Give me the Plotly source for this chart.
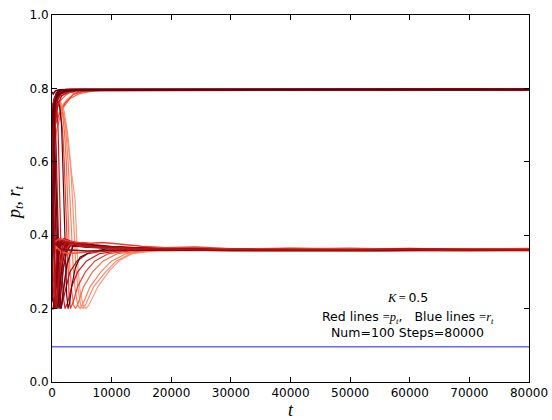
import plotly.graph_objects as go

# ---------------- data ----------------
# lines that climb quickly to the upper level (~0.797)
up_fast_t = [
    [0, 100, 300, 600, 1000, 2000, 4000, 20000, 50000, 80000],
    [0, 200, 500, 900, 1600, 3000, 20000, 80000],
    [0, 150, 350, 700, 1200, 2500, 80000],
    [0, 200, 450, 800, 1500, 3000, 80000],
    [0, 150, 400, 900, 2000, 80000],
    [0, 200, 500, 1000, 2000, 4000, 80000],
    [0, 300, 700, 1500, 3000, 80000],
    [0, 200, 600, 1200, 2500, 80000],
    [0, 100, 300, 700, 1300, 2500, 5000, 80000],
    [0, 250, 600, 1000, 1800, 3500, 80000],
    [0, 300, 800, 1500, 3000, 80000],
    [0, 400, 900, 1600, 2800, 5000, 80000],
    [0, 100, 250, 500, 900, 1800, 80000],
    [0, 300, 700, 1200, 2200, 4500, 80000],
]
up_fast_p = [
    [0.22, 0.45, 0.70, 0.78, 0.792, 0.796, 0.797, 0.797, 0.798, 0.797],
    [0.30, 0.52, 0.73, 0.783, 0.793, 0.797, 0.797, 0.796],
    [0.40, 0.60, 0.75, 0.787, 0.794, 0.797, 0.798],
    [0.50, 0.66, 0.76, 0.785, 0.793, 0.796, 0.797],
    [0.58, 0.72, 0.77, 0.788, 0.795, 0.797],
    [0.66, 0.74, 0.775, 0.788, 0.793, 0.796, 0.796],
    [0.73, 0.77, 0.785, 0.792, 0.796, 0.797],
    [0.79, 0.785, 0.794, 0.796, 0.797, 0.798],
    [0.35, 0.48, 0.66, 0.77, 0.788, 0.795, 0.797, 0.797],
    [0.45, 0.62, 0.74, 0.778, 0.79, 0.796, 0.797],
    [0.62, 0.70, 0.765, 0.785, 0.794, 0.797],
    [0.55, 0.68, 0.75, 0.78, 0.79, 0.795, 0.797],
    [0.26, 0.40, 0.62, 0.76, 0.788, 0.795, 0.797],
    [0.70, 0.755, 0.775, 0.785, 0.792, 0.796, 0.797],
]
up_fast_colors = ["#67000d", "#7a0510", "#8b0a12", "#99000d", "#a50f15", "#7f0610",
                  "#b11218", "#67000d", "#8b0a12", "#99000d", "#a50f15", "#cb181d",
                  "#7a0510", "#67000d"]

# lines that creep up slowly to the upper level
up_slow_t = [
    [0, 300, 700, 1200, 1800, 2500, 3500, 5000, 7000, 80000],
    [0, 400, 800, 1300, 2000, 3000, 4500, 6500, 9000, 80000],
    [0, 300, 900, 1600, 2400, 3200, 4000, 6000, 80000],
    [0, 500, 1000, 1500, 2200, 3000, 3800, 5000, 8000, 80000],
]
up_slow_p = [
    [0.60, 0.68, 0.71, 0.735, 0.755, 0.77, 0.783, 0.79, 0.795, 0.797],
    [0.55, 0.64, 0.69, 0.72, 0.75, 0.772, 0.785, 0.792, 0.796, 0.797],
    [0.70, 0.73, 0.755, 0.77, 0.783, 0.79, 0.786, 0.795, 0.797],
    [0.66, 0.70, 0.72, 0.74, 0.76, 0.775, 0.787, 0.792, 0.796, 0.797],
]
up_slow_colors = ["#fc9272", "#fb6a4a", "#f4583a", "#ef3b2c"]

# lines that fall from ~0.75, touch 0.2 and recover to ~0.36 (lightest first)
fall_t = [
    [0, 300, 800, 1300, 1700, 2350, 3020, 3440, 3860, 4110, 4360, 4700, 5200, 5700, 6200, 7700, 9700, 11400, 13600, 17000, 24000, 30000, 40000, 50000, 60000, 70000, 80000],
    [0, 300, 800, 1400, 2000, 2600, 3100, 3470, 3750, 4000, 4400, 4800, 5200, 5600, 7000, 9000, 10800, 13200, 17000, 23000, 30000, 40000, 50000, 60000, 70000, 80000],
    [0, 300, 800, 1300, 1800, 2300, 2700, 3050, 3300, 3550, 3900, 4300, 4700, 5100, 6400, 8200, 10000, 12500, 16000, 22000, 30000, 40000, 50000, 60000, 70000, 80000],
    [0, 300, 700, 1200, 1700, 2100, 2400, 2600, 2800, 3000, 3300, 3600, 3900, 4300, 5300, 6800, 8600, 11000, 15000, 20000, 30000, 40000, 50000, 60000, 70000, 80000],
    [0, 250, 600, 1000, 1400, 1800, 2050, 2300, 2500, 2650, 2850, 3100, 3500, 4300, 5600, 7200, 9500, 13000, 18000, 25000, 30000, 40000, 50000, 60000, 70000, 80000],
    [0, 200, 500, 800, 1000, 1200, 1300, 1450, 1600, 1800, 2000, 2200, 2600, 3300, 4300, 5800, 8000, 11000, 15000, 20000, 30000, 40000, 50000, 60000, 70000, 80000],
    [0, 150, 300, 500, 700, 900, 1050, 1200, 1350, 1500, 1800, 2300, 3000, 4200, 6000, 9000, 13000, 20000, 30000, 40000, 50000, 60000, 70000, 80000],
    [0, 200, 500, 900, 1300, 1600, 1800, 1960, 2100, 2250, 2450, 2700, 2950, 3300, 3900, 4700, 6500, 9000, 13000, 20000, 30000, 40000, 50000, 60000, 70000, 80000],
]
fall_p = [
    [0.45, 0.70, 0.75, 0.76, 0.74, 0.70, 0.60, 0.55, 0.50, 0.40, 0.31, 0.25, 0.21, 0.20, 0.21, 0.26, 0.305, 0.332, 0.351, 0.357, 0.366, 0.361, 0.364, 0.36, 0.365, 0.36, 0.363],
    [0.64, 0.74, 0.765, 0.765, 0.74, 0.68, 0.60, 0.50, 0.40, 0.31, 0.25, 0.21, 0.20, 0.21, 0.26, 0.30, 0.33, 0.35, 0.357, 0.365, 0.361, 0.366, 0.362, 0.364, 0.361, 0.365],
    [0.70, 0.75, 0.765, 0.76, 0.74, 0.69, 0.60, 0.50, 0.40, 0.31, 0.25, 0.21, 0.20, 0.21, 0.26, 0.30, 0.33, 0.35, 0.357, 0.36, 0.362, 0.361, 0.36, 0.362, 0.36, 0.361],
    [0.58, 0.72, 0.76, 0.765, 0.74, 0.68, 0.60, 0.50, 0.40, 0.31, 0.25, 0.21, 0.20, 0.21, 0.26, 0.30, 0.33, 0.35, 0.357, 0.36, 0.361, 0.362, 0.36, 0.361, 0.36, 0.361],
    [0.66, 0.74, 0.765, 0.76, 0.74, 0.68, 0.60, 0.50, 0.40, 0.31, 0.24, 0.20, 0.215, 0.26, 0.30, 0.33, 0.35, 0.357, 0.36, 0.361, 0.362, 0.36, 0.361, 0.36, 0.362, 0.36],
    [0.60, 0.72, 0.76, 0.75, 0.70, 0.60, 0.50, 0.40, 0.33, 0.26, 0.22, 0.20, 0.215, 0.26, 0.30, 0.33, 0.35, 0.357, 0.36, 0.362, 0.361, 0.36, 0.362, 0.36, 0.361, 0.361],
    [0.52, 0.68, 0.74, 0.72, 0.64, 0.50, 0.38, 0.29, 0.23, 0.20, 0.22, 0.26, 0.30, 0.33, 0.35, 0.358, 0.362, 0.361, 0.36, 0.362, 0.361, 0.359, 0.361, 0.36],
    [0.48, 0.66, 0.75, 0.77, 0.75, 0.70, 0.60, 0.50, 0.40, 0.31, 0.24, 0.20, 0.215, 0.26, 0.31, 0.34, 0.355, 0.362, 0.364, 0.362, 0.361, 0.362, 0.36, 0.361, 0.362, 0.361],
]
fall_colors = ["#fc9a7e", "#fc8d6f", "#fc8161", "#fb6a4a", "#ef3b2c", "#cb181d", "#a50f15", "#67000d"]

# lines that settle quickly into the lower level (~0.36)
band_t = [
    [0, 150, 400, 700, 1000, 1500, 2500, 4000, 6000, 9000, 13000, 18000, 25000, 35000, 45000, 55000, 65000, 75000, 80000],
    [0, 150, 400, 700, 1000, 1500, 2500, 4000, 6000, 9000, 13000, 18000, 25000, 35000, 45000, 55000, 65000, 75000, 80000],
    [0, 200, 450, 700, 1000, 1400, 2000, 3000, 4500, 6500, 9000, 13000, 18000, 25000, 35000, 45000, 55000, 65000, 75000, 80000],
    [0, 200, 450, 700, 1000, 1400, 2000, 3000, 4500, 6500, 9000, 13000, 18000, 25000, 35000, 45000, 55000, 65000, 75000, 80000],
    [0, 150, 350, 550, 750, 1000, 1300, 1700, 2200, 3000, 4500, 6500, 9000, 13000, 18000, 25000, 35000, 45000, 55000, 65000, 75000, 80000],
    [0, 150, 400, 700, 1000, 1500, 2500, 4000, 6000, 9000, 13000, 18000, 25000, 35000, 45000, 55000, 65000, 75000, 80000],
    [0, 150, 400, 700, 1000, 1500, 2500, 4000, 6000, 9000, 13000, 18000, 25000, 35000, 45000, 55000, 65000, 75000, 80000],
    [0, 200, 400, 600, 800, 1000, 1200, 1500, 1900, 2500, 3500, 5000, 7000, 10000, 14000, 19000, 25000, 35000, 45000, 55000, 65000, 75000, 80000],
    [0, 200, 450, 700, 1000, 1400, 2000, 3000, 4500, 6500, 9000, 13000, 18000, 25000, 35000, 45000, 55000, 65000, 75000, 80000],
    [0, 150, 350, 550, 750, 1000, 1300, 1700, 2200, 3000, 4500, 6500, 9000, 13000, 18000, 25000, 35000, 45000, 55000, 65000, 75000, 80000],
    [0, 150, 400, 700, 1000, 1500, 2500, 4000, 6000, 9000, 13000, 18000, 25000, 35000, 45000, 55000, 65000, 75000, 80000],
    [0, 200, 450, 700, 1000, 1400, 2000, 3000, 4500, 6500, 9000, 13000, 18000, 25000, 35000, 45000, 55000, 65000, 75000, 80000],
    [0, 200, 450, 700, 1000, 1400, 2000, 3000, 4500, 6500, 9000, 13000, 18000, 25000, 35000, 45000, 55000, 65000, 75000, 80000],
    [0, 200, 400, 600, 800, 1000, 1200, 1500, 1900, 2500, 3500, 5000, 7000, 10000, 14000, 19000, 25000, 35000, 45000, 55000, 65000, 75000, 80000],
    [0, 300, 700, 1200, 2000, 3000, 4500, 6500, 8500, 10500, 12500, 15000, 19000, 24000, 30000, 40000, 50000, 60000, 70000, 80000],
    [0, 300, 700, 1200, 2000, 3000, 4500, 6500, 8500, 10500, 12500, 15000, 19000, 24000, 30000, 40000, 50000, 60000, 70000, 80000],
    [0, 150, 400, 700, 1000, 1500, 2500, 4000, 6000, 9000, 13000, 18000, 25000, 35000, 45000, 55000, 65000, 75000, 80000],
    [0, 150, 300, 450, 600, 750, 900, 1100, 1400, 1800, 2500, 3500, 5000, 7000, 10000, 14000, 20000, 30000, 40000, 50000, 60000, 70000, 80000],
]
band_p = [
    [0.22, 0.30, 0.37, 0.39, 0.385, 0.38, 0.376, 0.372, 0.368, 0.366, 0.364, 0.362, 0.363, 0.36, 0.362, 0.361, 0.363, 0.361, 0.362],
    [0.35, 0.38, 0.39, 0.382, 0.379, 0.375, 0.373, 0.37, 0.367, 0.365, 0.363, 0.361, 0.362, 0.36, 0.361, 0.362, 0.36, 0.361, 0.36],
    [0.30, 0.22, 0.20, 0.26, 0.33, 0.37, 0.385, 0.38, 0.374, 0.37, 0.366, 0.364, 0.362, 0.361, 0.363, 0.36, 0.362, 0.361, 0.36, 0.361],
    [0.50, 0.38, 0.27, 0.21, 0.22, 0.30, 0.36, 0.38, 0.376, 0.371, 0.367, 0.364, 0.363, 0.362, 0.36, 0.362, 0.361, 0.363, 0.361, 0.362],
    [0.60, 0.50, 0.35, 0.24, 0.20, 0.24, 0.30, 0.35, 0.375, 0.38, 0.375, 0.37, 0.366, 0.364, 0.362, 0.361, 0.362, 0.36, 0.361, 0.362, 0.36, 0.361],
    [0.25, 0.33, 0.385, 0.392, 0.386, 0.38, 0.377, 0.373, 0.369, 0.366, 0.364, 0.363, 0.361, 0.362, 0.36, 0.362, 0.361, 0.36, 0.361],
    [0.42, 0.40, 0.37, 0.365, 0.372, 0.378, 0.38, 0.375, 0.37, 0.367, 0.365, 0.363, 0.362, 0.361, 0.363, 0.36, 0.362, 0.361, 0.362],
    [0.70, 0.66, 0.55, 0.42, 0.30, 0.22, 0.20, 0.24, 0.31, 0.36, 0.38, 0.377, 0.372, 0.368, 0.365, 0.363, 0.362, 0.361, 0.363, 0.36, 0.362, 0.361, 0.362],
    [0.28, 0.24, 0.26, 0.32, 0.37, 0.385, 0.383, 0.378, 0.373, 0.369, 0.366, 0.364, 0.362, 0.363, 0.361, 0.362, 0.36, 0.362, 0.361, 0.36],
    [0.55, 0.45, 0.32, 0.22, 0.20, 0.21, 0.26, 0.32, 0.36, 0.378, 0.377, 0.372, 0.368, 0.365, 0.363, 0.362, 0.36, 0.362, 0.361, 0.36, 0.362, 0.361],
    [0.38, 0.36, 0.355, 0.365, 0.375, 0.382, 0.378, 0.374, 0.37, 0.367, 0.364, 0.362, 0.361, 0.362, 0.36, 0.361, 0.362, 0.36, 0.361],
    [0.20, 0.20, 0.23, 0.29, 0.35, 0.38, 0.39, 0.384, 0.377, 0.372, 0.368, 0.365, 0.363, 0.361, 0.362, 0.361, 0.36, 0.362, 0.36, 0.361],
    [0.45, 0.33, 0.24, 0.21, 0.25, 0.31, 0.355, 0.375, 0.372, 0.369, 0.366, 0.364, 0.362, 0.36, 0.362, 0.361, 0.363, 0.36, 0.362, 0.361],
    [0.65, 0.70, 0.68, 0.58, 0.45, 0.33, 0.24, 0.20, 0.25, 0.32, 0.37, 0.38, 0.374, 0.369, 0.366, 0.364, 0.362, 0.362, 0.36, 0.361, 0.36, 0.362, 0.36],
    [0.33, 0.37, 0.385, 0.39, 0.388, 0.383, 0.38, 0.378, 0.38, 0.378, 0.374, 0.37, 0.366, 0.368, 0.363, 0.362, 0.364, 0.361, 0.363, 0.362],
    [0.27, 0.34, 0.37, 0.36, 0.352, 0.35, 0.352, 0.355, 0.357, 0.358, 0.359, 0.36, 0.358, 0.359, 0.357, 0.358, 0.357, 0.358, 0.357, 0.358],
    [0.32, 0.36, 0.38, 0.375, 0.368, 0.362, 0.36, 0.358, 0.357, 0.358, 0.359, 0.36, 0.359, 0.358, 0.359, 0.358, 0.36, 0.358, 0.359],
    [0.76, 0.62, 0.45, 0.30, 0.22, 0.20, 0.23, 0.29, 0.34, 0.37, 0.382, 0.378, 0.373, 0.369, 0.366, 0.364, 0.362, 0.361, 0.362, 0.36, 0.362, 0.361, 0.36],
]
band_colors = ["#67000d", "#7a0510", "#8b0a12", "#99000d", "#a50f15", "#b11218",
               "#7f0610", "#8b0a12", "#cb181d", "#67000d", "#a50f15", "#99000d",
               "#d92523", "#7a0510", "#ef3b2c", "#f4583a", "#8b0a12", "#b11218"]

# blue line r_t
r_times = [0, 80000]
r_values = [0.096, 0.096]

x_ticks = [0, 10000, 20000, 30000, 40000, 50000, 60000, 70000, 80000]
y_ticks = [0.0, 0.2, 0.4, 0.6, 0.8, 1.0]

# ---------------- figure ----------------
fig = go.Figure()


def add_group(ts, ps, colors, width):
    for t, p, c in zip(ts, ps, colors):
        fig.add_trace(go.Scatter(x=t, y=p, mode="lines",
                                 line=dict(color=c, width=width),
                                 hoverinfo="skip", showlegend=False))


add_group(up_slow_t, up_slow_p, up_slow_colors, 1.2)
add_group(fall_t, fall_p, fall_colors, 1.2)
add_group(band_t, band_p, band_colors, 1.6)
add_group(up_fast_t, up_fast_p, up_fast_colors, 1.6)

fig.add_trace(go.Scatter(x=r_times, y=r_values, mode="lines",
                         line=dict(color="rgb(104,104,255)", width=1.6),
                         hoverinfo="skip", showlegend=False))

SERIF = "Liberation Serif"
SANS = "DejaVu Sans"

axis_common = dict(showgrid=False, zeroline=False, showline=True, linecolor="black",
                   linewidth=1, mirror="ticks", ticks="inside", ticklen=5,
                   tickcolor="black", tickwidth=1, automargin=False,
                   tickfont=dict(family=SANS, size=12, color="black"))

fig.update_xaxes(range=[0, 80000], tickvals=x_ticks,
                 ticktext=[str(v) for v in x_ticks], **axis_common)
fig.update_yaxes(range=[0, 1], tickvals=y_ticks,
                 ticktext=["%.1f" % v for v in y_ticks], **axis_common)

ann = [
    dict(text="<i>t</i>", x=0.5, y=-0.077, xref="paper", yref="paper",
         showarrow=False, font=dict(family=SERIF, size=18, color="black"),
         xanchor="center", yanchor="middle"),
    dict(text="<i>p<sub>t</sub></i>, <i>r<sub>t</sub></i>", x=-0.078, y=0.49,
         xref="paper", yref="paper", textangle=-90, showarrow=False,
         font=dict(family=SERIF, size=18, color="black"),
         xanchor="center", yanchor="middle"),
    dict(text='<span style="font-family:Liberation Serif"><i>K</i>\u2009=\u2009</span>0.5',
         x=59700, y=0.229, xref="x", yref="y", showarrow=False,
         font=dict(family=SANS, size=12.5, color="black"),
         xanchor="center", yanchor="middle"),
    dict(text='Red lines <span style="font-family:Liberation Serif">=<i>p<sub>t</sub></i></span>,   '
              'Blue lines <span style="font-family:Liberation Serif">=<i>r<sub>t</sub></i></span>',
         x=59700, y=0.177, xref="x", yref="y", showarrow=False,
         font=dict(family=SANS, size=12.5, color="black"),
         xanchor="center", yanchor="middle"),
    dict(text="Num=100 Steps=80000",
         x=59700, y=0.134, xref="x", yref="y", showarrow=False,
         font=dict(family=SANS, size=12.5, color="black"),
         xanchor="center", yanchor="middle"),
]

fig.update_layout(width=552, height=420,
                  margin=dict(l=52, r=23, t=15, b=38, pad=0),
                  paper_bgcolor="white", plot_bgcolor="white",
                  showlegend=False, annotations=ann,
                  font=dict(family=SANS, size=12, color="black"))

fig.write_html("out.html",
               config={"displayModeBar": False},
               post_script="document.body.style.margin='0';document.body.style.overflow='hidden';")
